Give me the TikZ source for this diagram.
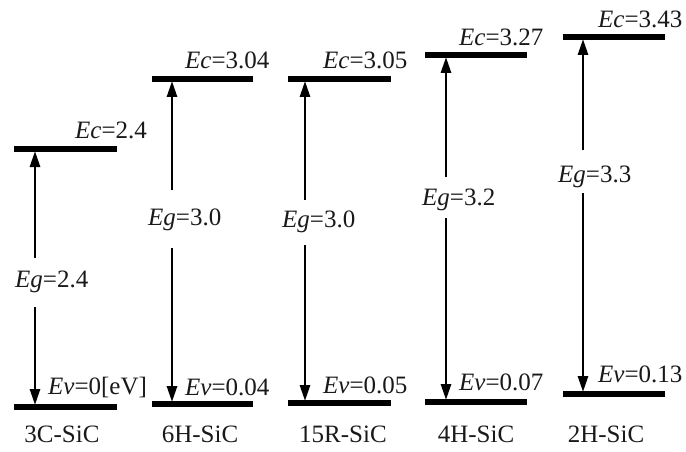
\documentclass[tikz,border=0pt]{standalone}
\usepackage{fontspec}
\setmainfont{Liberation Serif}
\usetikzlibrary{arrows.meta}
\tikzset{
  level/.style={line width=5.5pt, black},
  gaparrow/.style={line width=2.8pt, black, -{Triangle[length=16pt,width=10pt]}},
  lab/.style={inner sep=0pt, text=black!90, font=\fontsize{25}{30}\selectfont},
}
\begin{document}
\begin{tikzpicture}[x=1pt,y=-1pt]
\useasboundingbox (0,0) rectangle (686,452);
% ---- 3C-SiC
\coordinate (c1L) at (14,149); \coordinate (c1R) at (117,149);
\coordinate (v1L) at (14,407); \coordinate (v1R) at (117,407);
\coordinate (a1c) at (35,151); \coordinate (a1t) at (35,258);
\coordinate (a1b) at (35,307); \coordinate (a1v) at (35,405);
\node[lab,anchor=base west] (ec1) at (75,139) {\textit{Ec}=2.4};
\node[lab,anchor=base west] (ev1) at (48,394) {\textit{Ev}=0[eV]};
\node[lab,anchor=base west] (eg1) at (15,287) {\textit{Eg}=2.4};
\node[lab,anchor=base] (n1) at (62,442) {3C-SiC};
% ---- 6H-SiC
\coordinate (c2L) at (152,79); \coordinate (c2R) at (253,79);
\coordinate (v2L) at (152,404); \coordinate (v2R) at (253,404);
\coordinate (a2c) at (172,81); \coordinate (a2t) at (172,190);
\coordinate (a2b) at (172,248); \coordinate (a2v) at (172,402);
\node[lab,anchor=base west] (ec2) at (185,69) {\textit{Ec}=3.04};
\node[lab,anchor=base west] (ev2) at (185,395) {\textit{Ev}=0.04};
\node[lab,anchor=base west] (eg2) at (148,225) {\textit{Eg}=3.0};
\node[lab,anchor=base] (n2) at (200,442) {6H-SiC};
% ---- 15R-SiC
\coordinate (c3L) at (288,79); \coordinate (c3R) at (391,79);
\coordinate (v3L) at (288,403); \coordinate (v3R) at (391,403);
\coordinate (a3c) at (305,81); \coordinate (a3t) at (305,200);
\coordinate (a3b) at (305,245); \coordinate (a3v) at (305,401);
\node[lab,anchor=base west] (ec3) at (323,69) {\textit{Ec}=3.05};
\node[lab,anchor=base west] (ev3) at (323,393) {\textit{Ev}=0.05};
\node[lab,anchor=base west] (eg3) at (282,227) {\textit{Eg}=3.0};
\node[lab,anchor=base] (n3) at (343,442) {15R-SiC};
% ---- 4H-SiC
\coordinate (c4L) at (425,55); \coordinate (c4R) at (527,55);
\coordinate (v4L) at (425,402); \coordinate (v4R) at (527,402);
\coordinate (a4c) at (446,57); \coordinate (a4t) at (446,177);
\coordinate (a4b) at (446,218); \coordinate (a4v) at (446,400);
\node[lab,anchor=base west] (ec4) at (459,46) {\textit{Ec}=3.27};
\node[lab,anchor=base west] (ev4) at (459,390) {\textit{Ev}=0.07};
\node[lab,anchor=base west] (eg4) at (422,205) {\textit{Eg}=3.2};
\node[lab,anchor=base] (n4) at (476,442) {4H-SiC};
% ---- 2H-SiC
\coordinate (c5L) at (563,37); \coordinate (c5R) at (665,37);
\coordinate (v5L) at (563,394); \coordinate (v5R) at (665,394);
\coordinate (a5c) at (583,39); \coordinate (a5t) at (583,150);
\coordinate (a5b) at (583,193); \coordinate (a5v) at (583,392);
\node[lab,anchor=base west] (ec5) at (598,28) {\textit{Ec}=3.43};
\node[lab,anchor=base west] (ev5) at (598,382) {\textit{Ev}=0.13};
\node[lab,anchor=base west] (eg5) at (558,182) {\textit{Eg}=3.3};
\node[lab,anchor=base] (n5) at (606,442) {2H-SiC};
% arrows and levels
\foreach \i in {1,...,5}{
  \draw[gaparrow] (a\i t) -- (a\i c);
  \draw[gaparrow] (a\i b) -- (a\i v);
  \draw[level] (c\i L) -- (c\i R);
  \draw[level] (v\i L) -- (v\i R);
}
\end{tikzpicture}
\end{document}
